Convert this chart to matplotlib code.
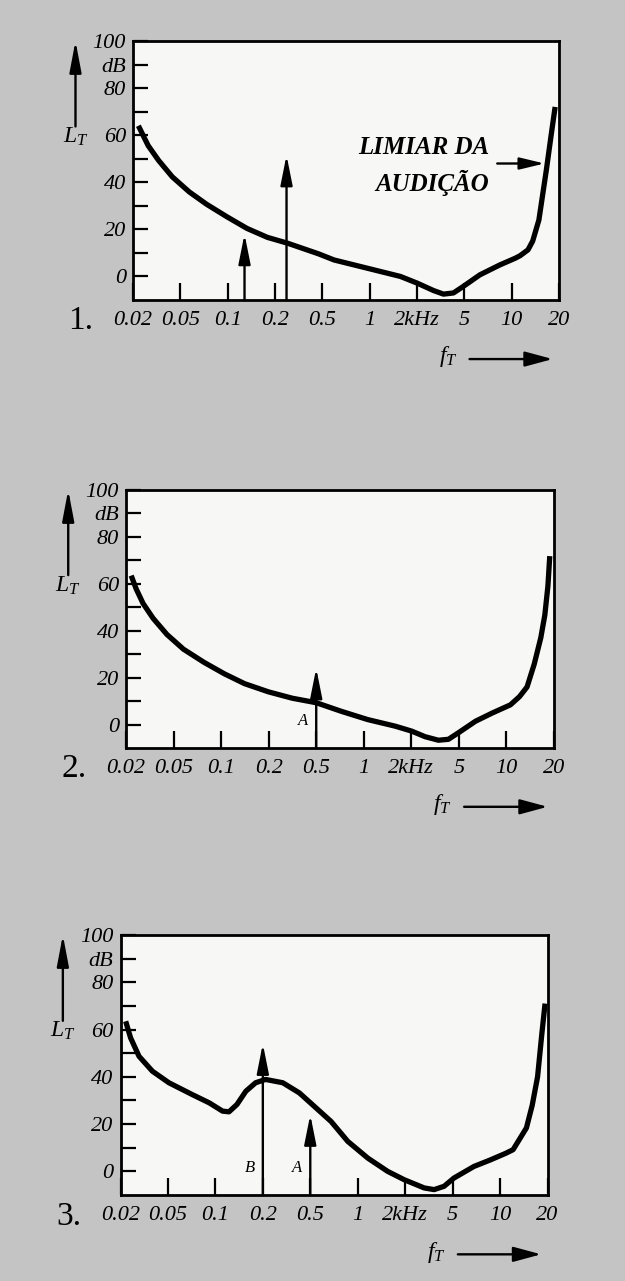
import matplotlib
matplotlib.use("Agg")
import matplotlib.pyplot as plt
import numpy as np

plt.rcParams['font.family'] = ['Liberation Serif', 'DejaVu Serif']
plt.rcParams['mathtext.fontset'] = 'custom'
plt.rcParams['mathtext.it'] = 'Liberation Serif:italic'
plt.rcParams['mathtext.rm'] = 'Liberation Serif'

# printed frequency scale (equally spaced marks)
tick_khz = [0.02, 0.05, 0.1, 0.2, 0.5, 1, 2, 5, 10, 20]
tick_labels = ['0.02', '0.05', '0.1', '0.2', '0.5', '1', '2kHz', '5', '10', '20']
db_ticks = [0, 10, 20, 30, 40, 50, 60, 70, 80, 90, 100]
db_labels = ['0', '', '20', '', '40', '', '60', '', '80', 'dB', '100']

# threshold of hearing, panel 1
f1 = [0.0222, 0.0268, 0.0328, 0.0428, 0.057, 0.0733, 0.0986, 0.1327, 0.179, 0.256,
      0.465, 0.594, 0.966, 1.57, 2.0, 2.76, 3.34, 4.05, 4.91, 6.28,
      8.41, 10.5, 11.3, 12.7, 13.6, 14.9, 16.6, 18.0, 18.9]
l1 = [64, 55.6, 49.3, 42.3, 35.9, 30.7, 25.4, 20.4, 16.6, 14.1,
      9.6, 7, 3.5, 0, -2.8, -6, -7.5, -7, -4.2, 0.7,
      4.9, 7.7, 8.8, 11.3, 15, 24, 45, 62, 72]

# panel 2
f2 = [0.0221, 0.0243, 0.0278, 0.0337, 0.044, 0.0578, 0.078, 0.105, 0.141, 0.2,
      0.316, 0.5, 0.723, 1.06, 1.58, 2.01, 2.61, 3.37, 4.09, 4.96,
      6.37, 8.13, 10.6, 12.1, 13.5, 15.0, 16.5, 17.5, 18.3, 18.8]
l2 = [63.5, 57.9, 51.6, 45.3, 38.4, 32.1, 26.5, 21.6, 17.4, 13.9,
      11.2, 9.3, 5.6, 2.1, -0.7, -2.8, -5.2, -6.7, -6.3, -3.5,
      1.4, 4.9, 8.4, 11.9, 16, 25.8, 37, 46.7, 59, 71.8]

# panel 3, masked threshold
f3 = [0.0221, 0.0243, 0.0286, 0.037, 0.0507, 0.0713, 0.0914, 0.111, 0.122, 0.137,
      0.156, 0.180, 0.211, 0.294, 0.405, 0.503, 0.678, 0.865, 1.16, 1.55,
      1.97, 2.89, 3.50, 4.24, 5.10, 6.83, 8.71, 10.9, 12.1, 14.7,
      16.0, 17.3, 18.4, 19.3]
l3 = [63.5, 56.5, 48.7, 42.4, 37.5, 32.5, 29, 25.5, 25.2, 28.3,
      33.9, 37.5, 38.9, 37.5, 33.2, 28.9, 21.1, 12.7, 5.6, 0,
      -3.5, -7, -7.7, -6.3, -2.8, 2.1, 4.9, 7.7, 9.2, 18.4,
      28, 40, 58, 71]

# tones (frequency kHz, level dB, label)
tones1 = [(0.128, 18, ''), (0.25, 51.5, '')]
tones2 = [(0.5, 24, 'A')]
tones3 = [(0.2, 54, 'B'), (0.5, 24, 'A')]

LOG_T = np.log10(tick_khz)
POS = np.arange(len(tick_khz))


def fwd(f):
    f = np.clip(np.asarray(f, dtype=float), 1e-6, None)
    return np.interp(np.log10(f), LOG_T, POS)


def inv(p):
    return 10 ** np.interp(np.asarray(p, dtype=float), POS, LOG_T)


def arrow(ax, tip, tail, coords='data', hl=0.9, hw=0.18, lw=1.7):
    ax.annotate('', xy=tip, xytext=tail, xycoords=coords, textcoords=coords,
                annotation_clip=False,
                arrowprops=dict(arrowstyle=f'-|>,head_length={hl},head_width={hw}',
                                lw=lw, color='black', shrinkA=0, shrinkB=0,
                                mutation_scale=20))


fig = plt.figure(figsize=(6.25, 12.81), dpi=100, facecolor='#c4c4c4')

boxes = [[0.2128, 0.7658, 0.6816, 0.2022],
         [0.2016, 0.4161, 0.6848, 0.2014],
         [0.1928, 0.0671, 0.6832, 0.2030]]
panels = [(f1, l1, tones1, '1.'), (f2, l2, tones2, '2.'), (f3, l3, tones3, '3.')]

for box, (fx, ly, tones, num) in zip(boxes, panels):
    ax = fig.add_axes(box, facecolor='#f7f7f5')
    ax.set_xscale('function', functions=(fwd, inv))
    ax.set_xlim(0.02, 20)
    ax.set_ylim(-10, 100)
    for s in ax.spines.values():
        s.set_linewidth(2.0)

    ax.plot(fx, ly, color='black', lw=3.8, solid_capstyle='butt', solid_joinstyle='round')

    for f, lev, lab in tones:
        arrow(ax, (f, lev), (f, -10))
        if lab:
            ax.text(inv(fwd(f) - 0.27), 1.5, lab, fontsize=12, style='italic',
                    ha='center', va='center')

    ax.set_xticks(tick_khz)
    ax.set_xticklabels(tick_labels, style='italic', fontsize=16)
    ax.minorticks_off()
    ax.set_yticks(db_ticks)
    ax.set_yticklabels(db_labels, style='italic', fontsize=16)
    ax.tick_params(axis='x', direction='in', length=12, width=1.6, pad=8)
    ax.tick_params(axis='y', direction='in', length=11, width=1.6, pad=5)

    # axis names with arrows
    arrow(ax, (-0.135, 1.0), (-0.135, 0.67), coords='axes fraction', hl=0.95, hw=0.18)
    ax.text(-0.135, 0.63, '$L_T$', transform=ax.transAxes, fontsize=17,
            ha='center', va='center')
    ax.text(-0.122, -0.082, num, transform=ax.transAxes, fontsize=24,
            ha='center', va='center')
    ax.text(0.74, -0.22, '$f_T$', transform=ax.transAxes, fontsize=17,
            ha='center', va='center')
    arrow(ax, (0.985, -0.228), (0.79, -0.228), coords='axes fraction', hl=0.85, hw=0.23)

    if num == '1.':
        ax.text(0.836, 0.517, 'LIMIAR DA\nAUDIÇÃO', transform=ax.transAxes,
                fontsize=18, fontweight='bold', style='italic', ha='right',
                va='center', multialignment='right', linespacing=1.5)
        arrow(ax, (0.966, 0.527), (0.855, 0.527), coords='axes fraction', hl=0.75, hw=0.18)

fig.savefig('out.png', dpi=100, facecolor=fig.get_facecolor())
